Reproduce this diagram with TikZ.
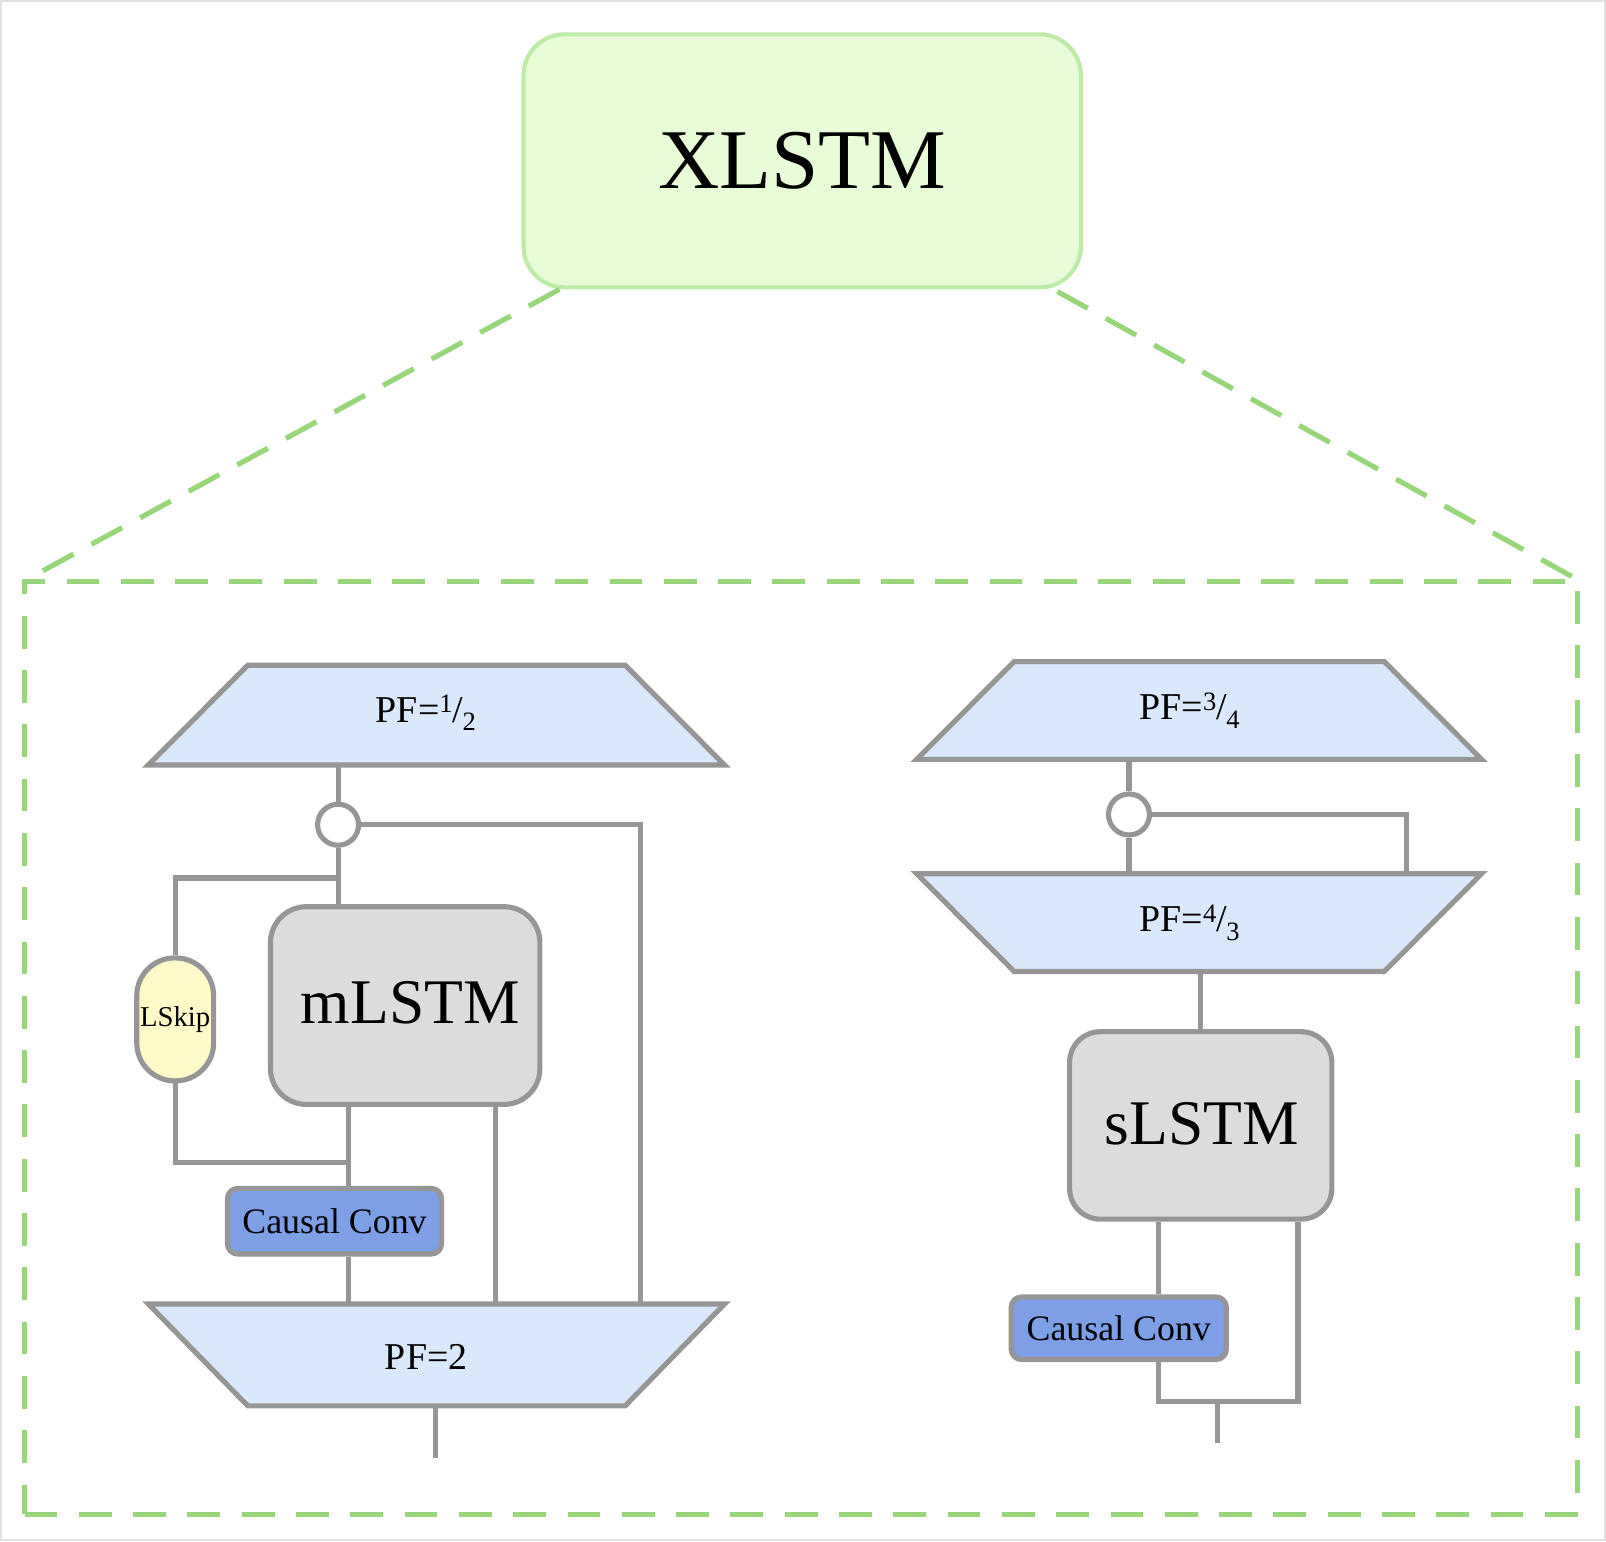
\documentclass[tikz,border=0pt]{standalone}
\usepackage{fontspec}
\setmainfont{Liberation Serif}
\usetikzlibrary{calc}
\definecolor{xfill}{RGB}{232,252,216}
\definecolor{xedge}{RGB}{190,236,166}
\definecolor{dgreen}{RGB}{151,215,122}
\definecolor{wgray}{RGB}{150,150,150}
\definecolor{tfill}{RGB}{218,232,252}
\definecolor{bfill}{RGB}{220,220,220}
\definecolor{cfill}{RGB}{124,159,230}
\definecolor{lfill}{RGB}{255,251,200}
\definecolor{frgray}{RGB}{225,225,225}
\newcommand{\pffrac}[2]{\textsuperscript{#1}\kern-0.5pt/\kern-0.5pt\textsubscript{#2}}
\begin{document}
\begin{tikzpicture}[x=1pt,y=-1pt,line join=miter,
  wire/.style={draw=wgray,line width=5pt},
  xbox/.style={draw=xedge,fill=xfill,line width=4pt,rounded corners=40pt,minimum width=544pt,minimum height=247pt,inner sep=0pt,font=\fontsize{83}{88}\selectfont},
  dline/.style={draw=dgreen,line width=5pt,dash pattern=on 34pt off 20pt},
  dframe/.style={draw=dgreen,line width=5pt,dash pattern=on 32pt off 21pt,minimum width=1516pt,minimum height=910pt,inner sep=0pt},
  trapbox/.style={inner sep=0pt,minimum height=97pt,font=\fontsize{37}{40}\selectfont},
  traptext/.style={inner sep=0pt,font=\fontsize{37}{40}\selectfont},
  trapline/.style={draw=wgray,fill=tfill,line width=5pt},
  lstm/.style={draw=wgray,fill=bfill,line width=5pt,inner sep=0pt},
  lstmtext/.style={inner sep=0pt,font=\fontsize{62}{66}\selectfont},
  conv/.style={draw=wgray,fill=cfill,line width=5pt,rounded corners=10pt,inner sep=0pt,font=\fontsize{35}{38}\selectfont},
  circ/.style={circle,draw=wgray,fill=white,line width=5pt,minimum size=40pt,inner sep=0pt},
  skip/.style={draw=wgray,fill=lfill,line width=5pt,rounded corners=37pt,minimum width=75pt,minimum height=120pt,inner sep=0pt,font=\fontsize{28}{30}\selectfont}
]
\useasboundingbox (0,0) rectangle (1567.6,1504.2);
\draw[frgray,line width=2pt] (1,1) rectangle (1566.6,1503.2);

% top box and zoom lines
\node[xbox] (xl) at (783,157) {XLSTM};
\node[dframe] (fr) at (782,1023) {};
\coordinate (dl1) at ($(xl.south west)+(37,0)$);
\coordinate (dr1) at ($(xl.south east)+(-25,2)$);
\coordinate (dl2) at ($(fr.north west)+(16,-6)$);
\coordinate (dr2) at ($(fr.north east)+(-5,-1)$);
\draw[dline] (dl1) -- (dl2);
\draw[dline] (dr1) -- (dr2);

% ---------- left branch ----------
\node[trapbox,minimum width=562pt] (t1) at (426,698) {};
\path[trapline] (t1.south west) -- ($(t1.north west)+(97,0)$) -- ($(t1.north east)+(-97,0)$) -- (t1.south east) -- cycle;
\node[traptext] (t1l) at ($(t1.center)+(-10,-2)$) {PF=\pffrac{1}{2}};

\node[trapbox,minimum width=562pt,minimum height=99pt] (b1) at (426,1322.5) {};
\path[trapline] (b1.north west) -- (b1.north east) -- ($(b1.south east)+(-97,0)$) -- ($(b1.south west)+(97,0)$) -- cycle;
\node[traptext] (b1l) at ($(b1.center)+(-10,2)$) {PF=2};

\node[lstm,rounded corners=35pt,minimum width=263pt,minimum height=193pt] (m) at (395.5,981.5) {};
\node[lstmtext] (ml) at ($(m.center)+(5,-3)$) {mLSTM};
\node[conv,minimum width=209pt,minimum height=64pt] (cc1) at (326.5,1192) {Causal Conv};
\node[skip] (ls) at (171,995) {LSkip};

\coordinate (xa) at (340,0);
\coordinate (xb) at (484,0);
\coordinate (xr1) at ($(b1.north west)+(480,0)$);
\coordinate (j1) at (330,857);
\coordinate (j2) at (340,1135);
\coordinate (o1) at (425,1423);

\node[circ] (c1) at (330,805) {};
\draw[wire] (t1.south -| c1) -- (c1.north);
\draw[wire] (c1.east) -| (xr1);
\draw[wire] (c1.south) -- (m.north -| c1);
\draw[wire] (j1) -| (ls.north);
\draw[wire] (ls.south) |- (j2);
\draw[wire] (m.south -| xa) -- (cc1.north -| xa);
\draw[wire] (cc1.south -| xa) -- (b1.north -| xa);
\draw[wire] (m.south -| xb) -- (b1.north -| xb);
\draw[wire] (b1.south -| o1) -- (o1);

% ---------- right branch ----------
\node[trapbox,minimum width=551pt,minimum height=95pt] (t2) at (1170.5,693.5) {};
\path[trapline] (t2.south west) -- ($(t2.north west)+(95,0)$) -- ($(t2.north east)+(-95,0)$) -- (t2.south east) -- cycle;
\node[traptext] (t2l) at ($(t2.center)+(-9,0)$) {PF=\pffrac{3}{4}};

\node[trapbox,minimum width=551pt,minimum height=95pt] (t3) at (1170.5,900.5) {};
\path[trapline] (t3.north west) -- (t3.north east) -- ($(t3.south east)+(-95,0)$) -- ($(t3.south west)+(95,0)$) -- cycle;
\node[traptext] (t3l) at ($(t3.center)+(-9,0)$) {PF=\pffrac{4}{3}};

\node[lstm,rounded corners=30pt,minimum width=256pt,minimum height=183pt] (s) at (1172,1098.5) {};
\node[lstmtext] (sl) at ($(s.center)+(1,-2)$) {sLSTM};
\node[conv,minimum width=210pt,minimum height=61pt] (cc2) at (1092,1296.5) {Causal Conv};

\coordinate (xc) at (1131,0);
\coordinate (xr2) at (1373,0);
\coordinate (j3) at (1267,1368);
\coordinate (o2) at (1188,1408);

\node[circ] (c2) at (1102,795) {};
\draw[wire] (t2.south -| c2) -- (c2.north);
\draw[wire] (c2.south) -- (t3.north -| c2);
\draw[wire] (c2.east) -| (t3.north -| xr2);
\draw[wire] (t3.south -| s) -- (s.north);
\draw[wire] (s.south -| xc) -- (cc2.north -| xc);
\draw[wire] (cc2.south -| xc) |- (j3) -- (s.south -| j3);
\draw[wire] (o2 |- j3) -- (o2);
\end{tikzpicture}
\end{document}
